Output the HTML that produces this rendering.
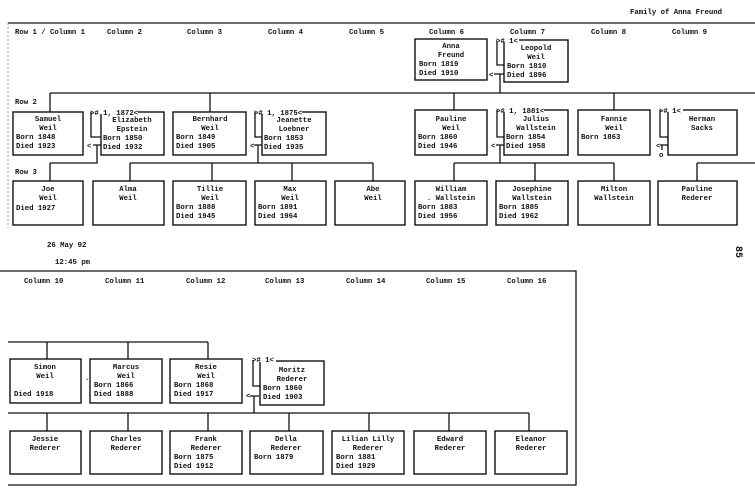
<!DOCTYPE html>
<html><head><meta charset="utf-8"><style>
html,body{margin:0;padding:0;background:#fff;width:755px;height:495px;overflow:hidden}
svg{display:block}
text{font-family:"Liberation Mono",monospace;font-size:7.3px;font-weight:bold;fill:#111}
.c{text-anchor:middle}
.l{fill:none;stroke:#111;stroke-width:1.3}
.b{fill:#fff;stroke:#111;stroke-width:1.4}
</style></head><body>
<svg width="755" height="495" viewBox="0 0 755 495" xmlns="http://www.w3.org/2000/svg" xml:space="preserve">
<!-- TOP PANEL -->
<text x="630" y="14">Family of Anna Freund</text>
<path class="l" d="M8,23 H755"/>
<path d="M8,23 V228" stroke="#999" stroke-width="1" stroke-dasharray="2,2" fill="none"/>
<text x="15" y="34">Row 1 / Column 1</text>
<text x="107" y="34">Column   2</text>
<text x="187" y="34">Column   3</text>
<text x="268" y="34">Column   4</text>
<text x="349" y="34">Column   5</text>
<text x="429" y="34">Column   6</text>
<text x="510" y="34">Column   7</text>
<text x="591" y="34">Column   8</text>
<text x="672" y="34">Column   9</text>
<text x="15" y="104">Row   2</text>
<text x="15" y="174">Row   3</text>

<path class="l" d="M50,93 H755 M50,93 V112 M210,93 V112 M454,93 V110 M614,93 V110 M500,74 V93 M494,74 H504
M50,163 H97 V145 M50,163 V181 M93,145 H101
M130,163 H373 M130,163 V181 M212,163 V181 M292,163 V181 M373,163 V181 M258,145 V163 M254,145 H262
M454,163 H614 M454,163 V181 M535,163 V181 M614,163 V181 M500,145 V163 M496,145 H504
M697,163 H755 M697,163 V181 M660,145 H668 M662,145 V150"/>

<rect class="b" x="415" y="39" width="72" height="41"/>
<text class="c" x="451" y="48">Anna</text><text class="c" x="451" y="57">Freund</text>
<text x="419" y="66">Born  1819</text><text x="419" y="75">Died  1910</text>
<rect class="b" x="504" y="40" width="64" height="42"/>
<path class="l" d="M497,40 V65 H504"/>
<rect x="497" y="36" width="22" height="6" fill="#fff"/>
<text x="496" y="43">&gt;# 1&lt;</text>
<text x="489" y="77">&lt;</text>
<text class="c" x="536" y="50">Leopold</text><text class="c" x="536" y="59">Weil</text>
<text x="507" y="68">Born  1810</text><text x="507" y="77">Died  1896</text>

<rect class="b" x="13" y="112" width="70" height="43"/>
<text class="c" x="48" y="121">Samuel</text><text class="c" x="48" y="130">Weil</text>
<text x="16" y="139">Born  1848</text><text x="16" y="148">Died  1923</text>

<rect class="b" x="101" y="112" width="63" height="43"/>
<path class="l" d="M91,112 V137 H101"/>
<rect x="92" y="108" width="46" height="6" fill="#fff"/>
<text x="90" y="115">&gt;# 1, 1872&lt;</text>
<text x="87" y="148">&lt;</text>
<text class="c" x="132" y="122">Elizabeth</text><text class="c" x="132" y="131">Epstein</text>
<text x="103" y="140">Born  1850</text><text x="103" y="149">Died  1932</text>

<rect class="b" x="173" y="112" width="73" height="43"/>
<text class="c" x="210" y="121">Bernhard</text><text class="c" x="210" y="130">Weil</text>
<text x="176" y="139">Born  1849</text><text x="176" y="148">Died  1905</text>

<rect class="b" x="262" y="112" width="64" height="43"/>
<path class="l" d="M255,112 V137 H262"/>
<rect x="256" y="108" width="46" height="6" fill="#fff"/>
<text x="254" y="115">&gt;# 1, 1875&lt;</text>
<text x="250" y="148">&lt;</text>
<text class="c" x="294" y="122">Jeanette</text><text class="c" x="294" y="131">Loebner</text>
<text x="264" y="140">Born  1853</text><text x="264" y="149">Died  1935</text>

<rect class="b" x="415" y="110" width="72" height="45"/>
<text class="c" x="451" y="121">Pauline</text><text class="c" x="451" y="130">Weil</text>
<text x="418" y="139">Born  1860</text><text x="418" y="148">Died  1946</text>

<rect class="b" x="504" y="110" width="64" height="45"/>
<path class="l" d="M497,110 V137 H504"/>
<rect x="498" y="106" width="46" height="6" fill="#fff"/>
<text x="496" y="113">&gt;# 1, 1881&lt;</text>
<text x="491" y="148">&lt;</text>
<text class="c" x="536" y="121">Julius</text><text class="c" x="536" y="130">Wallstein</text>
<text x="506" y="139">Born  1854</text><text x="506" y="148">Died  1958</text>

<rect class="b" x="578" y="110" width="72" height="45"/>
<text class="c" x="614" y="121">Fannie</text><text class="c" x="614" y="130">Weil</text>
<text x="581" y="139">Born  1863</text>

<rect class="b" x="668" y="110" width="69" height="45"/>
<path class="l" d="M660,110 V137 H668"/>
<rect x="661" y="106" width="22" height="6" fill="#fff"/>
<text x="659" y="113">&gt;# 1&lt;</text>
<text x="656" y="148">&lt;</text>
<text x="659" y="157">o</text>
<text class="c" x="702" y="121">Herman</text><text class="c" x="702" y="130">Sacks</text>

<rect class="b" x="13" y="181" width="70" height="44"/>
<text class="c" x="48" y="191">Joe</text><text class="c" x="48" y="200">Weil</text>
<text x="16" y="210">Died  1927</text>
<rect class="b" x="93" y="181" width="71" height="44"/>
<text class="c" x="128" y="191">Alma</text><text class="c" x="128" y="200">Weil</text>
<rect class="b" x="173" y="181" width="73" height="44"/>
<text class="c" x="210" y="191">Tillie</text><text class="c" x="210" y="200">Weil</text>
<text x="176" y="209">Born  1888</text><text x="176" y="218">Died  1945</text>
<rect class="b" x="255" y="181" width="71" height="44"/>
<text class="c" x="290" y="191">Max</text><text class="c" x="290" y="200">Weil</text>
<text x="258" y="209">Born  1891</text><text x="258" y="218">Died  1964</text>
<rect class="b" x="335" y="181" width="70" height="44"/>
<text class="c" x="373" y="191">Abe</text><text class="c" x="373" y="200">Weil</text>
<rect class="b" x="415" y="181" width="72" height="44"/>
<text class="c" x="451" y="191">William</text><text class="c" x="451" y="200">. Wallstein</text>
<text x="418" y="209">Born  1883</text><text x="418" y="218">Died  1956</text>
<rect class="b" x="496" y="181" width="72" height="44"/>
<text class="c" x="532" y="191">Josephine</text><text class="c" x="532" y="200">Wallstein</text>
<text x="499" y="209">Born  1885</text><text x="499" y="218">Died  1962</text>
<rect class="b" x="578" y="181" width="72" height="44"/>
<text class="c" x="614" y="191">Milton</text><text class="c" x="614" y="200">Wallstein</text>
<rect class="b" x="658" y="181" width="79" height="44"/>
<text class="c" x="697" y="191">Pauline</text><text class="c" x="697" y="200">Rederer</text>

<text x="47" y="247">26 May 92</text>
<text x="55" y="264">12:45 pm</text>
<text x="0" y="0" transform="translate(736,246) rotate(90)" style="font-size:10px">85</text>

<!-- BOTTOM PANEL -->
<path class="l" d="M0,271 H576 V485 H8"/>
<text x="24" y="283">Column   10</text>
<text x="105" y="283">Column   11</text>
<text x="186" y="283">Column   12</text>
<text x="265" y="283">Column   13</text>
<text x="346" y="283">Column   14</text>
<text x="426" y="283">Column   15</text>
<text x="507" y="283">Column   16</text>

<path class="l" d="M8,342 H208 M47,342 V359 M128,342 V359 M208,342 V359
M8,413 H529 M47,413 V431 M128,413 V431 M208,413 V431 M289,413 V431 M369,413 V431 M449,413 V431 M529,413 V431
M254,396 V413 M250,396 H259"/>

<rect class="b" x="10" y="359" width="71" height="44"/>
<text class="c" x="45" y="369">Simon</text><text class="c" x="45" y="378">Weil</text>
<text x="14" y="396">Died  1918</text>
<text x="85" y="380">.</text>
<rect class="b" x="90" y="359" width="72" height="44"/>
<text class="c" x="126" y="369">Marcus</text><text class="c" x="126" y="378">Weil</text>
<text x="94" y="387">Born  1866</text><text x="94" y="396">Died  1888</text>
<rect class="b" x="170" y="359" width="72" height="44"/>
<text class="c" x="206" y="369">Resie</text><text class="c" x="206" y="378">Weil</text>
<text x="174" y="387">Born  1868</text><text x="174" y="396">Died  1917</text>
<rect class="b" x="260" y="361" width="64" height="44"/>
<path class="l" d="M253,360 V386 H260"/>
<rect x="254" y="356" width="22" height="6" fill="#fff"/>
<text x="252" y="362">&gt;# 1&lt;</text>
<text x="246" y="398">&lt;</text>
<text class="c" x="292" y="372">Moritz</text><text class="c" x="292" y="381">Rederer</text>
<text x="263" y="390">Born  1860</text><text x="263" y="399">Died  1903</text>

<rect class="b" x="10" y="431" width="71" height="43"/>
<text class="c" x="45" y="441">Jessie</text><text class="c" x="45" y="450">Rederer</text>
<rect class="b" x="90" y="431" width="72" height="43"/>
<text class="c" x="126" y="441">Charles</text><text class="c" x="126" y="450">Rederer</text>
<rect class="b" x="170" y="431" width="72" height="43"/>
<text class="c" x="206" y="441">Frank</text><text class="c" x="206" y="450">Rederer</text>
<text x="174" y="459">Born  1875</text><text x="174" y="468">Died  1912</text>
<rect class="b" x="250" y="431" width="73" height="43"/>
<text class="c" x="286" y="441">Della</text><text class="c" x="286" y="450">Rederer</text>
<text x="254" y="459">Born  1879</text>
<rect class="b" x="332" y="431" width="72" height="43"/>
<text class="c" x="368" y="441">Lilian Lilly</text><text class="c" x="368" y="450">Rederer</text>
<text x="336" y="459">Born  1881</text><text x="336" y="468">Died  1929</text>
<rect class="b" x="414" y="431" width="72" height="43"/>
<text class="c" x="450" y="441">Edward</text><text class="c" x="450" y="450">Rederer</text>
<rect class="b" x="495" y="431" width="72" height="43"/>
<text class="c" x="531" y="441">Eleanor</text><text class="c" x="531" y="450">Rederer</text>
</svg>
</body></html>
